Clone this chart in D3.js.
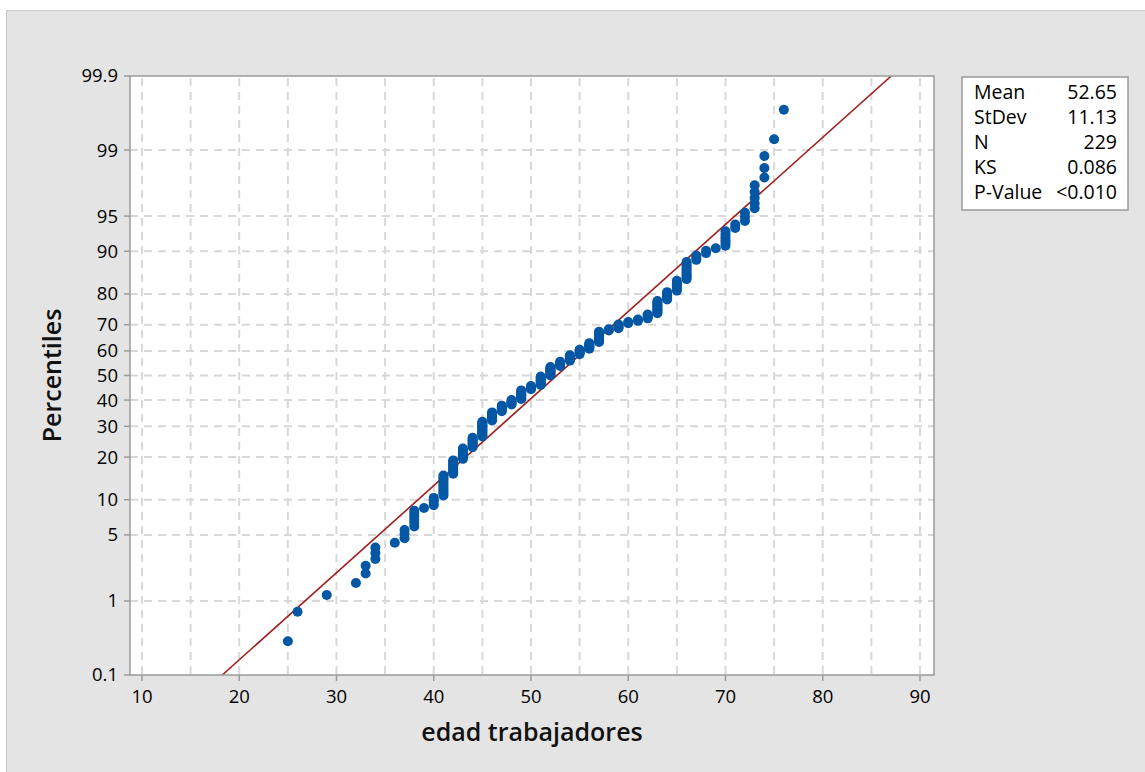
<!DOCTYPE html>
<html>
<head>
<meta charset="utf-8">
<script src="https://cdn.jsdelivr.net/npm/d3@7"></script>
<style>
  body { margin: 0; background: #fff; }
  svg { display: block; font-family: "Open Sans", "Noto Sans", sans-serif; }
</style>
</head>
<body>
<div id="chart"></div>
<script>
var
  width = 1145,
  height = 772;

// edades observadas y cuantos trabajadores tienen cada una
var ages   = [25, 26, 29, 32, 33, 34, 36, 37, 38, 39, 40, 41, 42, 43, 44, 45, 46, 47, 48, 49,
              50, 51, 52, 53, 54, 55, 56, 57, 58, 59, 60, 61, 62, 63, 64, 65, 66, 67, 68, 69,
              70, 71, 72, 73, 74, 75, 76];
var counts = [1, 1, 1, 1, 2, 3, 1, 3, 6, 1, 4, 11, 9, 8, 8, 13, 8, 6, 5, 9,
              4, 9, 9, 5, 6, 5, 6, 10, 2, 4, 2, 2, 4, 10, 6, 7, 10, 3, 2, 1,
              6, 2, 3, 5, 3, 1, 1];

var xTicks = [10, 20, 30, 40, 50, 60, 70, 80, 90];
var xGrid = [10, 15, 20, 25, 30, 35, 40, 45, 50, 55, 60, 65, 70, 75, 80, 85, 90];
var yTicks = [0.1, 1, 5, 10, 20, 30, 40, 50, 60, 70, 80, 90, 95, 99, 99.9];

var statLabels = ["Mean", "StDev", "N", "KS", "P-Value"];
var statValues = ["52.65", "11.13", "229", "0.086", "<0.010"];
var mean = 52.65, stdev = 11.13;

// inversa de la normal estandar (Acklam)
function probit(p) {
  var a = [-39.69683028665376, 220.9460984245205, -275.9285104469687, 138.3577518672690, -30.66479806614716, 2.506628277459239];
  var b = [-54.47609879822406, 161.5858368580409, -155.6989798598866, 66.80131188771972, -13.28068155288572];
  var c = [-0.007784894002430293, -0.3223964580411365, -2.400758277161838, -2.549732539343734, 4.374664141464968, 2.938163982698783];
  var d = [0.007784695709041462, 0.3224671290700398, 2.445134137142996, 3.754408661907416];
  var q, r;
  if (p < 0.02425) {
    q = Math.sqrt(-2 * Math.log(p));
    return (((((c[0]*q+c[1])*q+c[2])*q+c[3])*q+c[4])*q+c[5]) / ((((d[0]*q+d[1])*q+d[2])*q+d[3])*q+1);
  }
  if (p > 1 - 0.02425) {
    q = Math.sqrt(-2 * Math.log(1 - p));
    return -(((((c[0]*q+c[1])*q+c[2])*q+c[3])*q+c[4])*q+c[5]) / ((((d[0]*q+d[1])*q+d[2])*q+d[3])*q+1);
  }
  q = p - 0.5; r = q * q;
  return (((((a[0]*r+a[1])*r+a[2])*r+a[3])*r+a[4])*r+a[5])*q / (((((b[0]*r+b[1])*r+b[2])*r+b[3])*r+b[4])*r+1);
}

var plotL = 130, plotR = 934, plotT = 76, plotB = 675;

var x = d3.scaleLinear().domain([8.77, 91.44]).range([plotL, plotR]);
var zMax = probit(0.999);
var y = d3.scaleLinear().domain([-zMax, zMax]).range([plotB, plotT]);

var svg = d3.select("#chart")
  .append("svg")
  .attr("width", width)
  .attr("height", height);

svg.append("rect")
  .attr("x", 6.5).attr("y", 10.5)
  .attr("width", width).attr("height", height)
  .attr("fill", "#e4e4e4")
  .attr("stroke", "#c6c6c6");

svg.append("rect")
  .attr("x", plotL).attr("y", plotT)
  .attr("width", plotR - plotL).attr("height", plotB - plotT)
  .attr("fill", "#fff");

// rejilla
svg.selectAll(".vgrid")
  .data(xGrid)
  .enter().append("line")
  .attr("x1", function(d) { return x(d); })
  .attr("x2", function(d) { return x(d); })
  .attr("y1", plotT + 2).attr("y2", plotB)
  .attr("stroke", "#d8d8d8").attr("stroke-width", 2)
  .attr("stroke-dasharray", "8,6");

svg.selectAll(".hgrid")
  .data(yTicks.slice(1, -1))
  .enter().append("line")
  .attr("x1", plotL).attr("x2", plotR)
  .attr("y1", function(d) { return y(probit(d / 100)); })
  .attr("y2", function(d) { return y(probit(d / 100)); })
  .attr("stroke", "#d8d8d8").attr("stroke-width", 2)
  .attr("stroke-dasharray", "8,6");

// recta ajustada
svg.append("clipPath").attr("id", "plotclip")
  .append("rect")
  .attr("x", plotL).attr("y", plotT)
  .attr("width", plotR - plotL).attr("height", plotB - plotT);

svg.append("line")
  .attr("clip-path", "url(#plotclip)")
  .attr("x1", x(mean - zMax * stdev)).attr("y1", y(-zMax))
  .attr("x2", x(mean + zMax * stdev)).attr("y2", y(zMax))
  .attr("stroke", "#a11f1f").attr("stroke-width", 1.6);

// puntos: cada observacion en su rango mediano
var n = d3.sum(counts);
var points = [];
var rank = 0;
for (var i = 0; i < ages.length; i++) {
  for (var k = 0; k < counts[i]; k++) {
    rank++;
    points.push({ age: ages[i], p: (rank - 0.3) / (n + 0.4) });
  }
}

svg.selectAll(".pt")
  .data(points)
  .enter().append("circle")
  .attr("cx", function(d) { return x(d.age); })
  .attr("cy", function(d) { return y(probit(d.p)); })
  .attr("r", 5)
  .attr("fill", "#0457a5");

// marco
svg.append("rect")
  .attr("x", plotL).attr("y", plotT)
  .attr("width", plotR - plotL).attr("height", plotB - plotT)
  .attr("fill", "none")
  .attr("stroke", "#9a9a9a").attr("stroke-width", 1.5);

// ejes
svg.selectAll(".xtick")
  .data(xTicks)
  .enter().append("line")
  .attr("x1", function(d) { return x(d); })
  .attr("x2", function(d) { return x(d); })
  .attr("y1", plotB).attr("y2", plotB + 6)
  .attr("stroke", "#9a9a9a").attr("stroke-width", 1.5);

svg.selectAll(".xlab")
  .data(xTicks)
  .enter().append("text")
  .attr("x", function(d) { return x(d); })
  .attr("y", plotB + 28)
  .attr("text-anchor", "middle")
  .attr("font-size", 18.5)
  .attr("fill", "#000")
  .text(function(d) { return d; });

svg.selectAll(".ytick")
  .data(yTicks)
  .enter().append("line")
  .attr("x1", plotL - 6).attr("x2", plotL)
  .attr("y1", function(d) { return y(probit(d / 100)); })
  .attr("y2", function(d) { return y(probit(d / 100)); })
  .attr("stroke", "#9a9a9a").attr("stroke-width", 1.5);

svg.selectAll(".ylab")
  .data(yTicks)
  .enter().append("text")
  .attr("x", plotL - 12)
  .attr("y", function(d) { return y(probit(d / 100)); })
  .attr("dy", "0.35em")
  .attr("text-anchor", "end")
  .attr("font-size", 18.5)
  .attr("fill", "#000")
  .text(function(d) { return d; });

svg.append("text")
  .attr("x", (plotL + plotR) / 2)
  .attr("y", 741)
  .attr("text-anchor", "middle")
  .attr("font-size", 25)
  .attr("font-weight", 600)
  .attr("fill", "#111")
  .text("edad trabajadores");

svg.append("text")
  .attr("transform", "translate(61," + ((plotT + plotB) / 2) + ") rotate(-90)")
  .attr("text-anchor", "middle")
  .attr("font-size", 25)
  .attr("font-weight", 600)
  .attr("fill", "#111")
  .text("Percentiles");

// cuadro de estadisticos
svg.append("rect")
  .attr("x", 962).attr("y", 77)
  .attr("width", 166).attr("height", 133)
  .attr("fill", "#fff")
  .attr("stroke", "#9a9a9a").attr("stroke-width", 1.5);

svg.selectAll(".slab")
  .data(statLabels)
  .enter().append("text")
  .attr("x", 974)
  .attr("y", function(d, i) { return 92 + i * 25; })
  .attr("dy", "0.35em")
  .attr("font-size", 19.5)
  .attr("fill", "#000")
  .text(function(d) { return d; });

svg.selectAll(".sval")
  .data(statValues)
  .enter().append("text")
  .attr("x", 1117)
  .attr("y", function(d, i) { return 92 + i * 25; })
  .attr("dy", "0.35em")
  .attr("text-anchor", "end")
  .attr("font-size", 19.5)
  .attr("fill", "#000")
  .text(function(d) { return d; });
</script>
</body>
</html>
